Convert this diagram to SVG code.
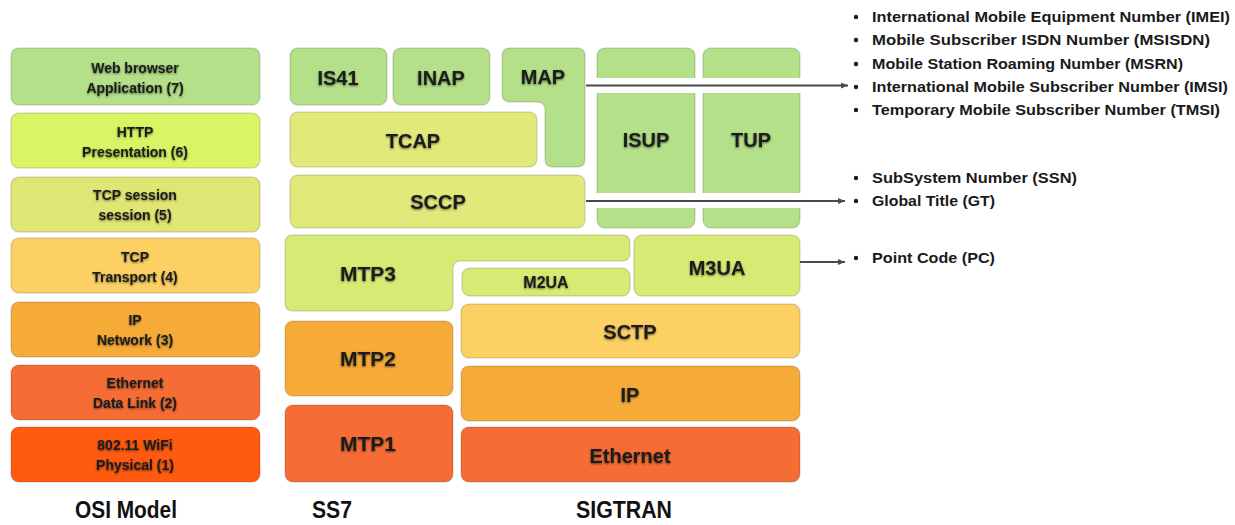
<svg xmlns="http://www.w3.org/2000/svg" width="1235" height="525" viewBox="0 0 1235 525">
  <defs>
    <filter id="ts" x="-20%" y="-40%" width="140%" height="180%">
      <feGaussianBlur in="SourceAlpha" stdDeviation="1.3"/>
      <feOffset dy="1" result="b"/>
      <feComponentTransfer><feFuncA type="linear" slope="0.55"/></feComponentTransfer>
      <feMerge><feMergeNode/><feMergeNode in="SourceGraphic"/></feMerge>
    </filter>
    <marker id="arr" markerUnits="userSpaceOnUse" markerWidth="8" markerHeight="7" refX="7" refY="3" orient="auto">
      <path d="M0,0 L7,3 L0,6 Z" fill="#4a4a4a"/>
    </marker>
  </defs>
  <style>
    .box { stroke: #000; stroke-opacity: 0.13; stroke-width: 1.5; }
    .green { fill: #b3e088; }
    .http { fill: #d9f563; }
    .sess { fill: #e0e673; }
    .yel { fill: #e0e979; }
    .mtp3 { fill: #d7eb74; }
    .lor { fill: #fcd062; }
    .or { fill: #f6ab38; }
    .red { fill: #f56d34; }
    .wifi { fill: #fe5a10; }
    .lbl { font-family: "Liberation Sans", Arial, sans-serif; font-weight: bold; fill: #1c1c1c; text-anchor: middle; filter: url(#ts); }
    .osi { font-size: 14px; }
    .big { font-size: 20px; }
    .list { font-family: "Liberation Sans", Arial, sans-serif; font-weight: bold; font-size: 15px; fill: #1a1a1a; }
    .cap { font-family: "Liberation Sans", Arial, sans-serif; font-weight: bold; font-size: 23px; fill: #111; }
    .band { stroke: #fff; stroke-width: 15; fill: none; }
    .conn { stroke: #4a4a4a; stroke-width: 2; fill: none; }
    .dot { fill: #1a1a1a; }
  </style>
  <rect width="1235" height="525" fill="#fff"/>

  <!-- OSI model -->
  <g id="osi-app">
    <rect class="box green" x="11" y="48" width="249" height="57" rx="8"/>
    <text class="lbl osi" x="135" y="73">Web browser</text>
    <text class="lbl osi" x="135" y="93">Application (7)</text>
  </g>
  <g id="osi-pres">
    <rect class="box http" x="11" y="113" width="249" height="55" rx="8"/>
    <text class="lbl osi" x="135" y="137">HTTP</text>
    <text class="lbl osi" x="135" y="157">Presentation (6)</text>
  </g>
  <g id="osi-sess">
    <rect class="box sess" x="11" y="177" width="249" height="55" rx="8"/>
    <text class="lbl osi" x="135" y="200">TCP session</text>
    <text class="lbl osi" x="135" y="220">session (5)</text>
  </g>
  <g id="osi-trans">
    <rect class="box lor" x="11" y="238" width="249" height="55" rx="8"/>
    <text class="lbl osi" x="135" y="262">TCP</text>
    <text class="lbl osi" x="135" y="282">Transport (4)</text>
  </g>
  <g id="osi-net">
    <rect class="box or" x="11" y="302" width="249" height="55" rx="8"/>
    <text class="lbl osi" x="135" y="325">IP</text>
    <text class="lbl osi" x="135" y="345">Network (3)</text>
  </g>
  <g id="osi-dl">
    <rect class="box red" x="11" y="365" width="249" height="55" rx="8"/>
    <text class="lbl osi" x="135" y="388">Ethernet</text>
    <text class="lbl osi" x="135" y="408">Data Link (2)</text>
  </g>
  <g id="osi-phy">
    <rect class="box wifi" x="11" y="427" width="249" height="55" rx="8"/>
    <text class="lbl osi" x="135" y="450">802.11 WiFi</text>
    <text class="lbl osi" x="135" y="470">Physical (1)</text>
  </g>

  <!-- SS7 / SIGTRAN stack -->
  <g id="is41">
    <rect class="box green" x="290" y="48" width="97" height="57" rx="8"/>
    <text class="lbl big" x="338" y="85">IS41</text>
  </g>
  <g id="inap">
    <rect class="box green" x="393" y="48" width="97" height="57" rx="8"/>
    <text class="lbl big" x="441" y="85">INAP</text>
  </g>
  <g id="map">
    <path class="box green" d="M510,48 H577 Q585,48 585,56 V159 Q585,167 577,167 H553 Q545,167 545,159 V110 Q545,102 537,102 H510 Q502,102 502,94 V56 Q502,48 510,48 Z"/>
    <text class="lbl big" x="543" y="84">MAP</text>
  </g>
  <g id="tcap">
    <rect class="box yel" x="290" y="112" width="247" height="55" rx="8"/>
    <text class="lbl big" x="413" y="148">TCAP</text>
  </g>
  <g id="sccp">
    <rect class="box yel" x="290" y="175" width="295" height="53" rx="8"/>
    <text class="lbl big" x="438" y="209">SCCP</text>
  </g>
  <g id="isup">
    <rect class="box green" x="597" y="48" width="98" height="180" rx="8"/>
    <text class="lbl big" x="646" y="147">ISUP</text>
  </g>
  <g id="tup">
    <rect class="box green" x="703" y="48" width="97" height="180" rx="8"/>
    <text class="lbl big" x="751" y="147">TUP</text>
  </g>
  <g id="mtp3">
    <path class="box mtp3" d="M293,235 H622 Q630,235 630,243 V253 Q630,261 622,261 H461 Q453,261 453,269 V303 Q453,311 445,311 H293 Q285,311 285,303 V243 Q285,235 293,235 Z"/>
    <text class="lbl" font-size="21" x="368" y="281">MTP3</text>
  </g>
  <g id="m2ua">
    <rect class="box mtp3" x="462" y="268" width="168" height="28" rx="8"/>
    <text class="lbl" font-size="16" x="546" y="288">M2UA</text>
  </g>
  <g id="m3ua">
    <rect class="box mtp3" x="634" y="235" width="166" height="61" rx="8"/>
    <text class="lbl big" x="717" y="275">M3UA</text>
  </g>
  <g id="sctp">
    <rect class="box lor" x="461" y="304" width="339" height="54" rx="8"/>
    <text class="lbl big" x="630" y="339">SCTP</text>
  </g>
  <g id="ip">
    <rect class="box or" x="461" y="366" width="339" height="55" rx="8"/>
    <text class="lbl big" x="630" y="402">IP</text>
  </g>
  <g id="ethernet">
    <rect class="box red" x="461" y="427" width="339" height="55" rx="8"/>
    <text class="lbl big" x="630" y="463">Ethernet</text>
  </g>
  <g id="mtp2">
    <rect class="box or" x="285" y="321" width="168" height="75" rx="8"/>
    <text class="lbl" font-size="21" x="368" y="366">MTP2</text>
  </g>
  <g id="mtp1">
    <rect class="box red" x="285" y="405" width="168" height="77" rx="8"/>
    <text class="lbl" font-size="21" x="368" y="451">MTP1</text>
  </g>

  <!-- Connectors -->
  <g id="connectors">
    <line class="band" x1="590" y1="85.5" x2="806" y2="85.5"/>
    <line class="band" x1="590" y1="200.5" x2="806" y2="200.5"/>
    <line class="conn" x1="586" y1="85.5" x2="848" y2="85.5" marker-end="url(#arr)"/>
    <line class="conn" x1="586" y1="201" x2="845" y2="201" marker-end="url(#arr)"/>
    <line class="conn" x1="800" y1="262" x2="845" y2="262" marker-end="url(#arr)"/>
  </g>

  <!-- Parameter lists -->
  <g id="map-params">
    <circle class="dot" cx="856" cy="17" r="2.2"/>
    <text class="list" x="872" y="22" textLength="358" lengthAdjust="spacingAndGlyphs">International Mobile Equipment Number (IMEI)</text>
    <circle class="dot" cx="856" cy="40" r="2.2"/>
    <text class="list" x="872" y="45" textLength="338" lengthAdjust="spacingAndGlyphs">Mobile Subscriber ISDN Number (MSISDN)</text>
    <circle class="dot" cx="856" cy="64" r="2.2"/>
    <text class="list" x="872" y="69" textLength="311" lengthAdjust="spacingAndGlyphs">Mobile Station Roaming Number (MSRN)</text>
    <circle class="dot" cx="856" cy="87" r="2.2"/>
    <text class="list" x="872" y="92" textLength="356" lengthAdjust="spacingAndGlyphs">International Mobile Subscriber Number (IMSI)</text>
    <circle class="dot" cx="856" cy="110" r="2.2"/>
    <text class="list" x="872" y="115" textLength="348" lengthAdjust="spacingAndGlyphs">Temporary Mobile Subscriber Number (TMSI)</text>
  </g>
  <g id="sccp-params">
    <circle class="dot" cx="856" cy="178" r="2.2"/>
    <text class="list" x="872" y="183" textLength="205" lengthAdjust="spacingAndGlyphs">SubSystem Number (SSN)</text>
    <circle class="dot" cx="856" cy="201" r="2.2"/>
    <text class="list" x="872" y="206" textLength="123" lengthAdjust="spacingAndGlyphs">Global Title (GT)</text>
  </g>
  <g id="m3ua-params">
    <circle class="dot" cx="856" cy="258" r="2.2"/>
    <text class="list" x="872" y="263" textLength="123" lengthAdjust="spacingAndGlyphs">Point Code (PC)</text>
  </g>

  <!-- Column captions -->
  <g id="captions">
    <text class="cap" x="75" y="518" textLength="102" lengthAdjust="spacingAndGlyphs">OSI Model</text>
    <text class="cap" x="312" y="518" textLength="40" lengthAdjust="spacingAndGlyphs">SS7</text>
    <text class="cap" x="576" y="518" textLength="96" lengthAdjust="spacingAndGlyphs">SIGTRAN</text>
  </g>
</svg>
